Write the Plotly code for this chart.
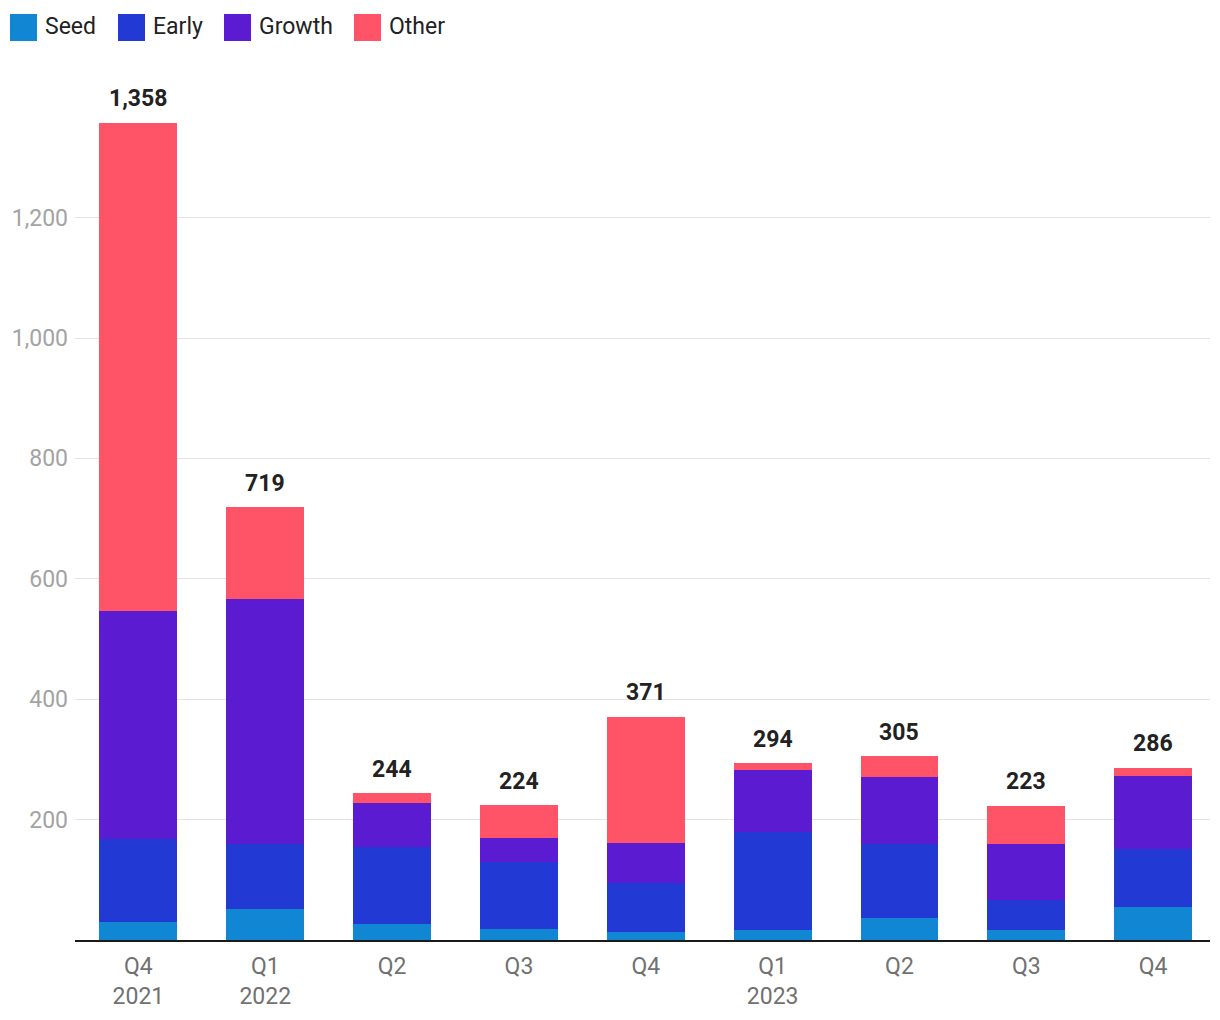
import plotly.graph_objects as go

quarters = ["Q4<br>2021", "Q1<br>2022", "Q2", "Q3", "Q4", "Q1<br>2023", "Q2", "Q3", "Q4"]
seed = [30, 52, 27, 19, 14, 16, 37, 17, 55]
early = [137, 108, 127, 110, 80, 163, 122, 50, 96]
growth = [380, 407, 74, 40, 67, 103, 112, 92, 121]
other = [811, 152, 16, 55, 210, 12, 34, 64, 14]
totals = [1358, 719, 244, 224, 371, 294, 305, 223, 286]

series_names = ["Seed", "Early", "Growth", "Other"]
series_vals = [seed, early, growth, other]
colors = ["#1187d4", "#2339d3", "#5a1bd1", "#ff5367"]

W, H = 1212, 1012
L, R, T, B = 67, 10, 82, 80
pw, ph = W - L - R, H - T - B

x = list(range(len(quarters)))
fig = go.Figure()
for name, vals, col in zip(series_names, series_vals, colors):
    fig.add_trace(go.Bar(x=x, y=vals, name=name, marker=dict(color=col, line=dict(width=0)),
                         showlegend=False, hoverinfo="skip"))

for xi, t in zip(x, totals):
    fig.add_annotation(x=xi, y=t, text=f"<b>{t:,}</b>", showarrow=False, yshift=24,
                       font=dict(size=23, color="#222222", family="Roboto"))

# manual legend (page pixel coords -> paper coords; figure is offset 8px by page margin)
legend_sq_x = [10, 118, 224, 354]
def px(p):
    return (p - 8 - L) / pw
def py(p):
    return (H - B - (p - 8)) / ph
for name, col, sx in zip(series_names, colors, legend_sq_x):
    fig.add_shape(type="rect", xref="paper", yref="paper",
                  x0=px(sx), x1=px(sx + 27), y0=py(41), y1=py(14),
                  fillcolor=col, line=dict(width=0))
    fig.add_annotation(xref="paper", yref="paper", x=px(sx + 33), y=py(27),
                       xanchor="left", yanchor="middle", text=name, showarrow=False,
                       font=dict(size=23, color="#222222", family="Roboto"))

fig.update_layout(
    width=W, height=H,
    barmode="stack", bargap=0.386,
    plot_bgcolor="white", paper_bgcolor="white",
    margin=dict(l=L, r=R, t=T, b=B, autoexpand=False),
    font=dict(family="Roboto", size=23, color="#777777"),
    showlegend=False,
    xaxis=dict(tickvals=x, ticktext=quarters, range=[-0.5, 8.448], showgrid=False,
               showline=True, linecolor="#1a1a1a", linewidth=2, ticks="",
               ticklabelstandoff=4, automargin=False,
               tickfont=dict(size=23, color="#717171")),
    yaxis=dict(range=[0, 1412], tickvals=[200, 400, 600, 800, 1000, 1200], tickformat=",",
               showgrid=True, gridcolor="#e3e3e3", gridwidth=1, zeroline=False,
               ticklabelstandoff=6, automargin=False,
               tickfont=dict(size=23, color="#a3a3a3"), ticks="", ticklen=0),
)
fig.write_html("out.html")
